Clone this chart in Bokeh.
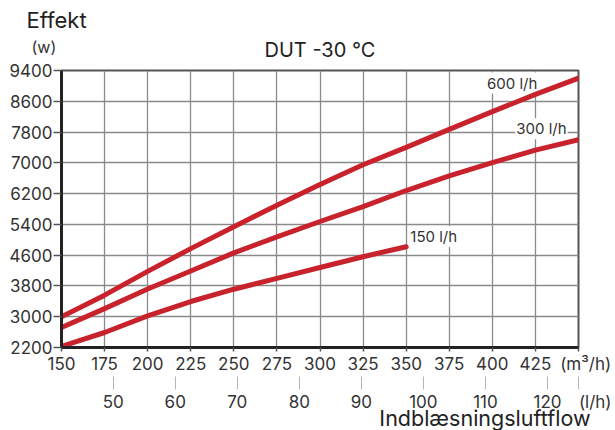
from bokeh.plotting import figure
from bokeh.models import Range1d, LinearAxis, FixedTicker, Label, Title, Grid
from bokeh.embed import file_html
from bokeh.resources import INLINE

# ---- data ----
flow_m3h = [150, 175, 200, 225, 250, 275, 300, 325, 350, 375, 400, 425, 450]
effekt_600 = [3000, 3560, 4180, 4770, 5340, 5900, 6440, 6950, 7400, 7870, 8330, 8780, 9200]
effekt_300 = [2720, 3210, 3720, 4190, 4660, 5075, 5475, 5860, 6280, 6660, 7005, 7330, 7600]
flow_m3h_150 = [150, 175, 200, 225, 250, 275, 300, 325, 350]
effekt_150 = [2230, 2590, 3020, 3395, 3715, 3995, 4280, 4560, 4820]

x_ticks = [150, 175, 200, 225, 250, 275, 300, 325, 350, 375, 400, 425, 450]
y_ticks = [2200, 3000, 3800, 4600, 5400, 6200, 7000, 7800, 8600, 9400]
ls_ticks = [50, 60, 70, 80, 90, 100, 110, 120, 125]

series_names = ["600 l/h", "300 l/h", "150 l/h"]
title_text = "DUT -30 °C"
y_title = "Effekt"
y_unit = "(w)"
x_unit = "(m³/h)"
x2_unit = "(l/h)"
x_title = "Indblæsningsluftflow"

FONT = "Inter"
TXT = "#333333"
RED = "#c8232c"
GRID = "#8a8a8a"
NB = "\u00a0"

p = figure(width=615, height=430, output_backend="svg", toolbar_location=None,
           x_range=Range1d(150, 450), y_range=Range1d(2200, 9400),
           min_border_left=61, min_border_right=37, min_border_top=70, min_border_bottom=83,
           x_axis_type=None, y_axis_type=None)

p.outline_line_color = "#555555"
p.outline_line_width = 2
p.background_fill_color = "white"
p.border_fill_color = "white"

# texts above the frame (stacked title rows, nearest first; plot title is outermost)
p.add_layout(Title(text=title_text, align="center", text_font=FONT, text_font_size="20px",
                   text_font_style="normal", text_color="#222222", standoff=18), "above")
p.add_layout(Title(text=y_title, align="left", offset=-35, text_font=FONT, text_font_size="22px",
                   text_font_style="normal", text_color="#222222", standoff=-13), "above")
p.title = Title(text=y_unit, align="left", offset=-30, text_font=FONT, text_font_size="16px",
                text_font_style="normal", text_color=TXT, standoff=-91)

yax = LinearAxis(ticker=FixedTicker(ticks=y_ticks))
yax.axis_line_width = 3
yax.axis_line_color = "#222222"
yax.major_tick_in = 0
yax.major_tick_out = 8
yax.major_tick_line_color = "#555555"
yax.major_tick_line_width = 1.5
yax.minor_tick_line_color = None
yax.major_label_text_font = FONT
yax.major_label_text_font_size = "17px"
yax.major_label_text_color = TXT
yax.major_label_standoff = 1
p.add_layout(yax, "left")

xax = LinearAxis(ticker=FixedTicker(ticks=x_ticks))
xax.major_label_overrides = {450: NB * 3 + x_unit}
xax.axis_line_width = 3
xax.axis_line_color = "#222222"
xax.major_tick_in = 0
xax.major_tick_out = 4
xax.major_tick_line_color = "#555555"
xax.major_tick_line_width = 1.5
xax.minor_tick_line_color = None
xax.major_label_text_font = FONT
xax.major_label_text_font_size = "17px"
xax.major_label_text_color = TXT
xax.major_label_standoff = 2
p.add_layout(xax, "below")

p.extra_x_ranges = {"ls": Range1d(150 / 3.6, 450 / 3.6)}
x2 = LinearAxis(x_range_name="ls", ticker=FixedTicker(ticks=ls_ticks))
x2.major_label_overrides = {125: NB * 7 + x2_unit}
x2.axis_line_color = None
x2.major_tick_in = 0
x2.major_tick_out = 13
x2.major_tick_line_color = "#b5b5b5"
x2.major_tick_line_width = 1
x2.minor_tick_line_color = None
x2.major_label_text_font = FONT
x2.major_label_text_font_size = "17px"
x2.major_label_text_color = TXT
x2.major_label_standoff = 2
p.add_layout(x2, "below")

p.add_layout(Title(text=x_title, align="right", offset=-12, text_font=FONT, text_font_size="21.5px",
                   text_font_style="normal", text_color="#222222", standoff=-23), "below")

p.add_layout(Grid(dimension=0, ticker=FixedTicker(ticks=x_ticks),
                  grid_line_color=GRID, grid_line_width=1.3))
p.add_layout(Grid(dimension=1, ticker=FixedTicker(ticks=y_ticks),
                  grid_line_color=GRID, grid_line_width=1.3))

lab_pos = [(397.5, 8945), (414.5, 7758), (353.0, 4953)]
for name, (lx, ly) in zip(series_names, lab_pos):
    p.add_layout(Label(x=lx, y=ly, x_offset=-2, y_offset=5, text=name, text_font=FONT,
                       text_font_size="15px", text_color=TXT, text_baseline="alphabetic",
                       level="underlay", background_fill_color="white", padding=1))

for xs, ys in [(flow_m3h, effekt_600), (flow_m3h, effekt_300), (flow_m3h_150, effekt_150)]:
    p.line(xs, ys, line_color=RED, line_width=5, line_cap="round", line_join="round")

open("out.html", "w").write(file_html(p, INLINE))
